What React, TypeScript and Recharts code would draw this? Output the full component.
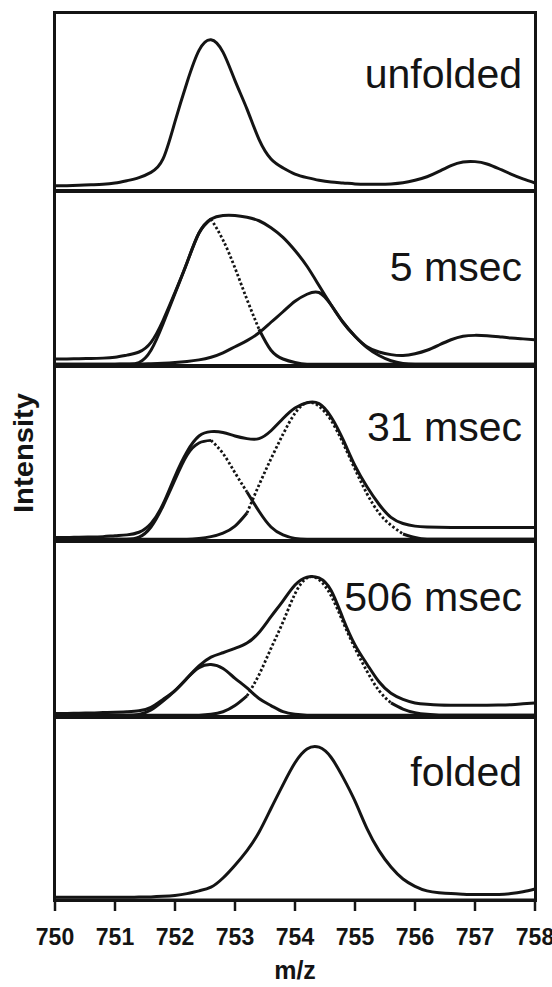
import React from "react";
import { LineChart, Line, XAxis, YAxis } from "recharts";

// m/z grid shared by every panel
const MZ = [
  750.0, 750.2, 750.4, 750.6, 750.8, 751.0, 751.2, 751.4, 751.6, 751.8,
  752.0, 752.2, 752.4, 752.6, 752.8, 753.0, 753.2, 753.4, 753.6, 753.8,
  754.0, 754.2, 754.4, 754.6, 754.8, 755.0, 755.2, 755.4, 755.6, 755.8,
  756.0, 756.2, 756.4, 756.6, 756.8, 757.0, 757.2, 757.4, 757.6, 757.8, 758.0,
];
const TICKS = [750, 751, 752, 753, 754, 755, 756, 757, 758];

// intensities, % of panel height
const unfolded = [
  3, 3, 3.2, 3.5, 3.8, 4.5, 5.8, 7.5, 10.5, 18, 39, 61, 79, 85, 78, 62, 46, 29, 18, 13,
  9.5, 7.5, 6, 5, 4.5, 4, 3.8, 3.8, 4, 4.6, 6, 8, 11, 14.3, 16.3, 16.5, 15.2, 12.5, 9.5, 6.8, 4.5,
];

const sum5 = [
  4, 4, 4.2, 4.3, 4.5, 5, 6.2, 8, 13.5, 26, 42, 59, 76, 84, 86, 86, 85, 83, 79, 73.5,
  66, 57, 46, 35, 25, 17, 11, 8, 6.5, 6, 7, 9, 12, 15, 17, 17.5, 17.3, 16.7, 16, 15.5, 15,
];
const unf5 = [
  1, 1, 1, 1, 1, 1, 1.2, 2, 9, 24, 41.5, 59, 76, 84, 72, 56, 38, 21, 9, 4,
  2, 1, 1, 1, 1, 1, 1, 1, 1, 1, 1, 1, 1, 1, 1, 1, 1, 1, 1, 1, 1,
];
const fold5 = [
  1, 1, 1, 1, 1, 1, 1, 1, 1.3, 1.6, 2, 2.6, 3.5, 5, 7.5, 11, 14.5, 19, 25, 31,
  37, 41, 42, 35, 25, 17, 10.5, 6, 3, 1.5, 1, 1, 1, 1, 1, 1, 1, 1, 1, 1, 1,
];

const sum31 = [
  2, 2, 2.2, 2.3, 2.5, 3, 3.5, 5, 10, 21, 37, 51, 60, 62.5, 62, 60, 58.5, 58.5, 63, 70,
  76, 79, 78.5, 71, 58, 43, 31, 21, 13.5, 10, 8.5, 8, 7.8, 7.7, 7.7, 7.7, 7.7, 7.7, 7.7, 7.7, 7.7,
];
const unf31 = [
  1, 1, 1, 1, 1, 1, 1, 2.2, 8, 20, 35, 49, 56, 57.5, 50, 39, 28, 17, 8, 3.5,
  1.5, 1, 1, 1, 1, 1, 1, 1, 1, 1, 1, 1, 1, 1, 1, 1, 1, 1, 1, 1, 1,
];
const fold31 = [
  1, 1, 1, 1, 1, 1, 1, 1, 1, 1, 1, 1, 1.5, 2.5, 4.5, 8.5, 16, 32, 47, 61,
  73, 79, 77, 69, 56, 41, 27, 16, 9, 4, 2, 1, 1, 1, 1, 1, 1, 1, 1, 1, 1,
];

const sum506 = [
  2, 2, 2.2, 2.3, 2.5, 2.7, 3, 3.5, 5.5, 10, 15, 22, 29, 34, 36.5, 39, 42, 48, 57, 66,
  75, 79.5, 79, 72, 56, 41, 30, 20, 13.5, 10, 8, 7.2, 6.8, 6.7, 6.7, 6.7, 6.7, 6.8, 7, 7.5, 8,
];
const unf506 = [
  1, 1, 1, 1, 1, 1, 1, 1.5, 4, 9, 15, 22, 28, 29.8, 27.5, 22, 16.5, 10.5, 6.5, 3,
  1.5, 1, 1, 1, 1, 1, 1, 1, 1, 1, 1, 1, 1, 1, 1, 1, 1, 1, 1, 1, 1,
];
const fold506 = [
  1, 1, 1, 1, 1, 1, 1, 1, 1, 1, 1, 1, 1, 1.5, 3, 6.5, 12, 24, 39, 54,
  70, 79, 78, 69, 54, 39, 26, 15, 8, 4.5, 2.5, 1.5, 1, 1, 1, 1, 1, 1, 1, 1, 1,
];

const folded = [
  1.5, 1.5, 1.5, 1.5, 1.5, 1.5, 1.5, 1.6, 1.7, 2, 2.5, 3.5, 5, 7, 12, 19, 27, 37, 50, 63,
  75, 82.5, 83.5, 78, 67, 54, 39, 27, 18, 11.5, 7.5, 5, 4, 3.5, 3.2, 3, 3, 3, 3.5, 4.5, 6,
];

// keep only points a..b / drop points strictly between a and b
const only = (arr: number[], a: number, b: number) => arr.map((v, i) => (i >= a && i <= b ? v : null));
const except = (arr: number[], a: number, b: number) => arr.map((v, i) => (i > a && i < b ? null : v));

const FONT = '"Liberation Sans", Arial, Helvetica, sans-serif';
const INK = "#141414";
const W = 552;
const PLOT_L = 55;
const PLOT_R = 535;
const AXIS_H = 87;

type Trace = { key: string; values: (number | null)[]; dotted?: boolean };
type PanelDef = { label: string; top: number; bottom: number; labelY: number; traces: Trace[] };

const PANELS: PanelDef[] = [
  {
    label: "unfolded", top: 13, bottom: 191, labelY: 88,
    traces: [{ key: "s", values: unfolded }],
  },
  {
    label: "5 msec", top: 191, bottom: 366, labelY: 281,
    traces: [
      { key: "s", values: sum5 },
      { key: "u", values: except(unf5, 13, 17) },
      { key: "ud", values: only(unf5, 13, 17), dotted: true },
      { key: "f", values: fold5 },
    ],
  },
  {
    label: "31 msec", top: 366, bottom: 541, labelY: 441,
    traces: [
      { key: "s", values: sum31 },
      { key: "u", values: except(unf31, 13, 16) },
      { key: "ud", values: only(unf31, 13, 16), dotted: true },
      { key: "f", values: except(fold31, 16, 29) },
      { key: "fd", values: only(fold31, 16, 29), dotted: true },
    ],
  },
  {
    label: "506 msec", top: 541, bottom: 717, labelY: 611,
    traces: [
      { key: "s", values: sum506 },
      { key: "u", values: unf506 },
      { key: "f", values: except(fold506, 16, 28) },
      { key: "fd", values: only(fold506, 16, 28), dotted: true },
    ],
  },
  {
    label: "folded", top: 717, bottom: 900, labelY: 786,
    traces: [{ key: "s", values: folded }],
  },
];

function Panel({ def, last }: { def: PanelDef; last: boolean }) {
  const h = def.bottom - def.top;
  const data = MZ.map((mz, i) => {
    const row: Record<string, number | null> = { mz };
    def.traces.forEach((t) => (row[t.key] = t.values[i]));
    return row;
  });

  return (
    <div style={{ position: "absolute", left: 0, top: def.top }}>
      <LineChart
        width={W}
        height={h + (last ? AXIS_H : 0)}
        data={data}
        margin={{ top: 0, right: W - PLOT_R, bottom: 0, left: PLOT_L }}
      >
        <XAxis
          dataKey="mz"
          type="number"
          domain={[750, 758]}
          ticks={TICKS}
          hide={!last}
          height={AXIS_H}
          interval={0}
          axisLine={{ stroke: INK, strokeWidth: 3 }}
          tickLine={{ stroke: INK, strokeWidth: 2.5 }}
          tickSize={11}
          tickMargin={18}
          tick={{ fill: INK, fontSize: 23, fontWeight: 700, fontFamily: FONT }}
          label={{
            value: "m/z",
            position: "insideBottom",
            offset: 8,
            fill: INK,
            fontSize: 25,
            fontWeight: 700,
            fontFamily: FONT,
          }}
        />
        <YAxis hide domain={[0, 100]} />
        {def.traces.map((t) => (
          <Line
            key={t.key}
            type="natural"
            dataKey={t.key}
            stroke={INK}
            strokeWidth={t.dotted ? 2.8 : 3}
            strokeDasharray={t.dotted ? "2.5 2.2" : undefined}
            dot={false}
            activeDot={false}
            connectNulls={false}
            isAnimationActive={false}
          />
        ))}
      </LineChart>
      <div
        style={{
          position: "absolute",
          left: PLOT_L - 2,
          top: -2,
          width: PLOT_R - PLOT_L + 4,
          height: h + 4,
          border: `3.5px solid ${INK}`,
          boxSizing: "border-box",
          pointerEvents: "none",
        }}
      />
    </div>
  );
}

export default function App() {
  return (
    <div
      style={{
        position: "absolute",
        left: 0,
        top: 0,
        width: W,
        height: 987,
        background: "#fff",
        overflow: "hidden",
        fontFamily: FONT,
      }}
    >
      {PANELS.map((p, i) => (
        <Panel key={p.label} def={p} last={i === PANELS.length - 1} />
      ))}
      <svg width={W} height={987} style={{ position: "absolute", left: 0, top: 0, pointerEvents: "none" }}>
        {PANELS.map((p) => (
          <text
            key={p.label}
            x={522}
            y={p.labelY}
            textAnchor="end"
            fontSize={41}
            fontFamily={FONT}
            fill={INK}
          >
            {p.label}
          </text>
        ))}
        <text
          x={33}
          y={453}
          transform="rotate(-90 33 453)"
          textAnchor="middle"
          fontSize={27}
          fontWeight={700}
          fontFamily={FONT}
          fill={INK}
          textLength={120}
          lengthAdjust="spacingAndGlyphs"
        >
          Intensity
        </text>
      </svg>
    </div>
  );
}
